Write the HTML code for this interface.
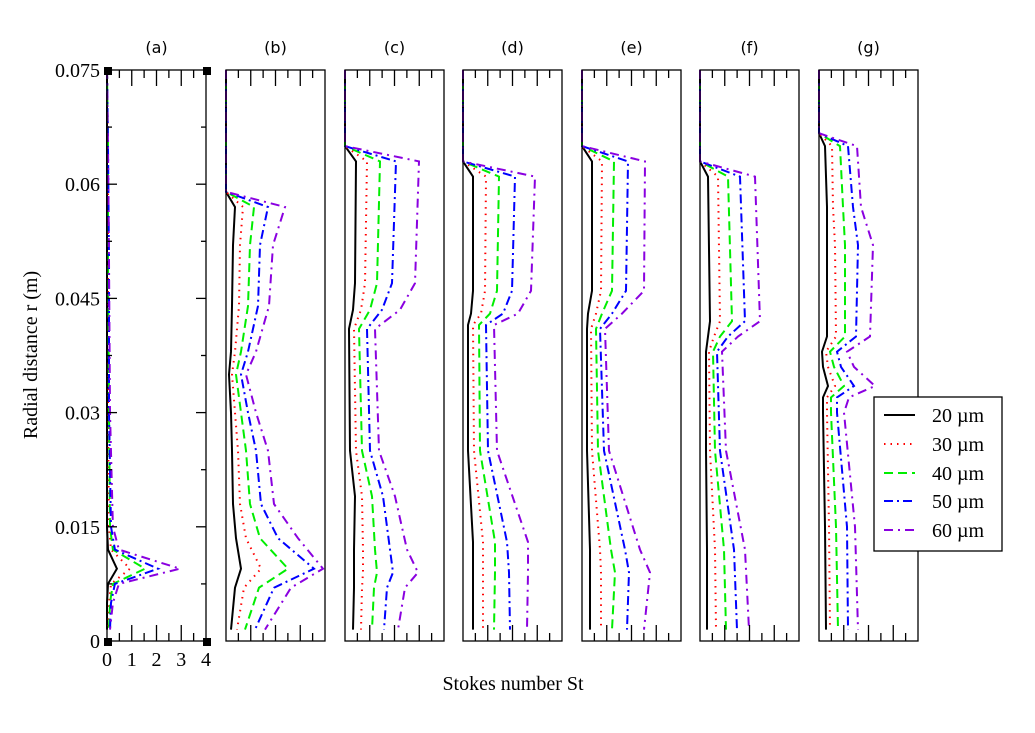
<!DOCTYPE html>
<html><head><meta charset="utf-8"><style>
html,body{margin:0;padding:0;background:#fff;}
svg{display:block;}
</style></head><body>
<svg id="chart" width="1035" height="733" viewBox="0 0 1035 733" xmlns="http://www.w3.org/2000/svg"></svg>
<script>
const panelNames = ['(a)','(b)','(c)','(d)','(e)','(f)','(g)'];
const panelLeft = [107,226,345,463,582,700,819];
const seriesNames = ['20 µm','30 µm','40 µm','50 µm','60 µm'];
const yTicks = [0,0.015,0.03,0.045,0.06,0.075];
const yTickLabels = ['0','0.015','0.03','0.045','0.06','0.075'];
const xTicksA = [0,1,2,3,4];

// panel (a): St in 0..4
const rA = [0.075,0.065,0.05,0.03,0.015,0.012,0.0095,0.0075,0.005,0.0015];
const a20 = [0,0,0,0,0,0.04,0.4,0.04,0,0];
const a30 = [0,0.04,0.04,0.04,0.08,0.16,0.93,0.16,0.08,0.04];
const a40 = [0,0.04,0.04,0.08,0.12,0.24,1.54,0.24,0.12,0.08];
const a50 = [0,0.04,0.08,0.08,0.16,0.32,2.06,0.32,0.16,0.12];
const a60 = [0,0.04,0.08,0.12,0.24,0.48,2.95,0.48,0.24,0.12];
// panels b-g: St on 0..99 scale (unlabelled axes)
const rB = [0.075,0.059,0.057,0.052,0.044,0.038,0.035,0.030,0.025,0.018,0.0135,0.0095,0.007,0.0015];
const b20 = [0,0,9,7,6,5,3,5,6,7,10,15,9,5];
const b30 = [0,0,17,14,13,9,6,9,12,14,20,35,18,11];
const b40 = [0,0,28,24,22,15,10,15,20,24,34,62,33,19];
const b50 = [0,0,42,34,32,22,15,22,30,35,52,88,48,29];
const b60 = [0,0,59,47,43,30,20,30,42,48,72,97,65,39];
const rC = [0.075,0.065,0.063,0.047,0.0435,0.041,0.025,0.019,0.012,0.009,0.007,0.0015];
const c20 = [0,0,11,10,8,4,5,10,9,9,9,8];
const c30 = [0,0,22,20,16,9,11,17,18,18,17,16];
const c40 = [0,0,35,32,25,14,17,27,30,32,29,27];
const c50 = [0,0,51,47,37,22,25,38,45,48,42,39];
const c60 = [0,0,74,70,55,30,34,50,62,73,60,53];
const rD = [0.075,0.063,0.061,0.046,0.043,0.0415,0.025,0.013,0.009,0.0015];
const d20 = [0,0,10,10,8,5,5,10,10,10];
const d30 = [0,0,23,22,18,10,11,20,20,20];
const d40 = [0,0,36,34,27,16,17,32,32,31];
const d50 = [0,0,52,49,40,23,25,44,46,47];
const d60 = [0,0,72,68,55,31,34,65,65,64];
const rE = [0.075,0.065,0.063,0.046,0.043,0.041,0.025,0.012,0.009,0.0015];
const e20 = [0,0,10,10,6,5,5,8,8,8];
const e30 = [0,0,20,19,14,9,10,18,19,19];
const e40 = [0,0,32,30,20,14,16,29,33,30];
const e50 = [0,0,46,44,30,18,22,43,47,45];
const e60 = [0,0,63,62,40,23,27,58,68,62];
const rF = [0.075,0.063,0.061,0.042,0.040,0.038,0.025,0.012,0.0015];
const f20 = [0,0,8,10,8,6,6,7,7];
const f30 = [0,0,18,20,14,9,10,15,16];
const f40 = [0,0,28,32,20,13,15,24,26];
const f50 = [0,0,40,45,28,17,20,34,37];
const f60 = [0,0,55,60,38,22,26,45,49];
const rG = [0.075,0.0667,0.065,0.057,0.052,0.040,0.038,0.036,0.0335,0.032,0.030,0.015,0.0015];
const g20 = [0,0,6,8,8,8,3,4,9,4,4,6,7];
const g30 = [0,0,13,14,16,17,7,9,16,8,8,10,11];
const g40 = [0,0,21,24,26,26,11,15,25,12,12,17,19];
const g50 = [0,0,29,34,39,37,18,22,35,18,18,28,29];
const g60 = [0,0,38,42,54,51,28,35,56,30,25,36,39];
const xMax = [4,99,99,99,99,99,99];

const panelR = [rA,rB,rC,rD,rE,rF,rG];
const panelSeries = [[a20,a30,a40,a50,a60],[b20,b30,b40,b50,b60],[c20,c30,c40,c50,c60],[d20,d30,d40,d50,d60],[e20,e30,e40,e50,e60],[f20,f30,f40,f50,f60],[g20,g30,g40,g50,g60]];

const colors = ['#000','#ff0000','#00ee00','#0000ff','#8a00e0'];
const dashes = ['', '1.5,5', '9,5', '9,4,2,4', '9,5,2,5'];
const widths = [2,2,2,2,2];
const PW = 99, TOP = 70, BOT = 641, RMAX = 0.075;
const svg = document.getElementById('chart');
const NS = 'http://www.w3.org/2000/svg';
function yS(r){ return BOT - r/RMAX*(BOT-TOP); }
function xS(p,v){ return panelLeft[p] + v/xMax[p]*PW; }
function mk(tag, attrs){ const e=document.createElementNS(NS,tag); for(const k in attrs) e.setAttribute(k,attrs[k]); svg.appendChild(e); return e; }
function txt(x,y,s,attrs){ const t=mk('text',Object.assign({x:x,y:y},attrs)); t.textContent=s; return t; }

for(let p=0;p<7;p++){
  const x0 = panelLeft[p];
  for(let s=0;s<5;s++){
    const rs = panelR[p], vs = panelSeries[p][s];
    let d='';
    for(let i=0;i<rs.length;i++){ d += (i?'L':'M') + xS(p,vs[i]).toFixed(1)+','+yS(rs[i]).toFixed(1); }
    const path = mk('path',{d:d,fill:'none',stroke:colors[s],'stroke-width':widths[s],'stroke-dasharray':dashes[s]||'none'});
    
    
  }
  const fr = mk('rect',{x:x0,y:TOP,width:PW,height:BOT-TOP,fill:'none',stroke:'#000','stroke-width':1.3});
  
  
  for(let k=1;k<8;k++){
    const x = x0 + k*PW/8, len = (k%2===0)?16:8;
    mk('line',{x1:x,y1:BOT,x2:x,y2:BOT-len,stroke:'#000','stroke-width':1.3});
    mk('line',{x1:x,y1:TOP,x2:x,y2:TOP+len,stroke:'#000','stroke-width':1.3});
  }
  const tt = txt(x0+PW/2, 53, panelNames[p], {'text-anchor':'middle','font-family':'DejaVu Sans, sans-serif','font-size':16});
  
  
}
for(let k=0;k<=10;k++){
  const r = k*0.0075, y = yS(r), len = (k%2===0)?10:5;
  if(k===0||k===10) continue;
  mk('line',{x1:107,y1:y,x2:107+len,y2:y,stroke:'#000','stroke-width':1.3});
  mk('line',{x1:206,y1:y,x2:206-len,y2:y,stroke:'#000','stroke-width':1.3});
}
for(let i=0;i<yTicks.length;i++){
  const t = txt(100, yS(yTicks[i])+7, yTickLabels[i], {'text-anchor':'end','font-family':'Liberation Serif, serif','font-size':20});
  
  
}
for(let i=0;i<xTicksA.length;i++){
  const t = txt(xS(0,xTicksA[i]), 666, String(xTicksA[i]), {'text-anchor':'middle','font-family':'Liberation Serif, serif','font-size':20});
  
  
}
[[107,TOP],[206,TOP],[107,BOT],[206,BOT]].forEach(c=>{
  const q = mk('rect',{x:c[0]-3,y:c[1]-3,width:8,height:8,fill:'#000'});
  
  
});
const xt = txt(513, 690, 'Stokes number St', {'text-anchor':'middle','font-family':'Liberation Serif, serif','font-size':20});


const yt = txt(0, 0, 'Radial distance r (m)', {'text-anchor':'middle','font-family':'Liberation Serif, serif','font-size':20,transform:'translate(37,355) rotate(-90)'});


const lg = mk('rect',{x:874,y:397,width:128,height:154,fill:'#fff',stroke:'#000','stroke-width':1.3});


const legY = [415,444,473,501,530];
for(let s=0;s<5;s++){
  const l = mk('line',{x1:884,y1:legY[s],x2:915,y2:legY[s],stroke:colors[s],'stroke-width':2,'stroke-dasharray':dashes[s]||'none'});
  
  
  const t = txt(932, legY[s]+7, seriesNames[s], {'font-family':'Liberation Serif, serif','font-size':20});
  
  
}
</script>
</body></html>
